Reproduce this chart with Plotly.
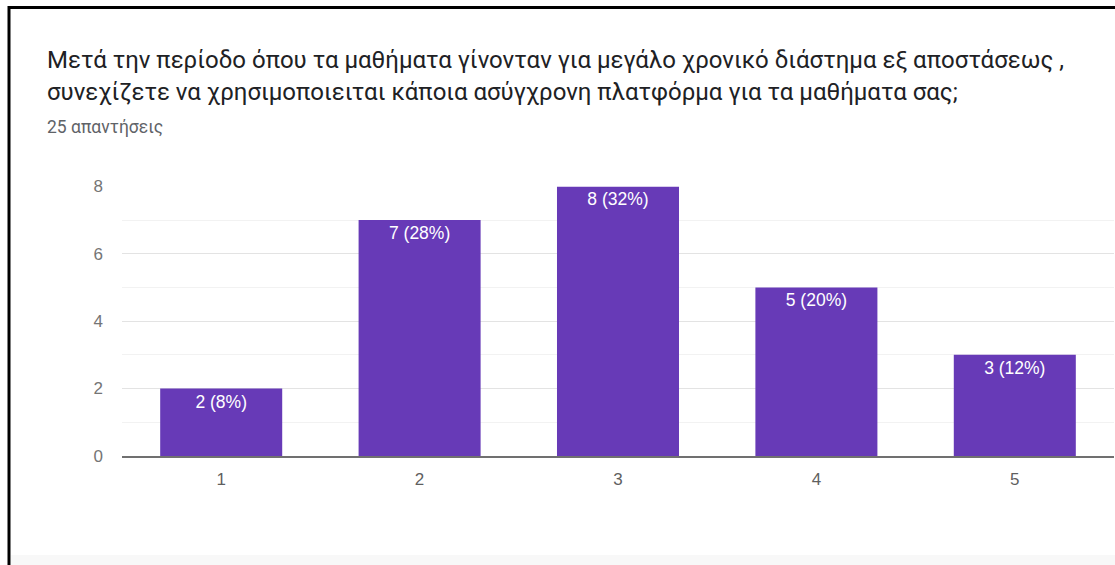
import plotly.graph_objects as go

# Survey results: answers on a 1-5 scale
categories = ["1", "2", "3", "4", "5"]
counts = [2, 7, 8, 5, 3]
respondents = 25
y_tick_values = [0, 2, 4, 6, 8]

title_line1 = "Μετά την περίοδο όπου τα μαθήματα γίνονταν για μεγάλο χρονικό διάστημα εξ αποστάσεως ,"
title_line2 = "συνεχίζετε να χρησιμοποιειται κάποια ασύγχρονη πλατφόρμα για τα μαθήματα σας;"
subtitle = f"{respondents} απαντήσεις"

labels = [f"{c} ({round(100 * c / respondents)}%)" for c in counts]

W, H = 1115, 565
TITLE_FONT = "Roboto, Arial, sans-serif"
CHART_FONT = "Arial, 'Liberation Sans', sans-serif"


def px_x(x):
    """Horizontal pixel -> paper fraction."""
    return x / W


def px_y(y):
    """Vertical pixel (from top) -> paper fraction (from bottom)."""
    return 1 - (y - 6) / 551


fig = go.Figure(
    go.Bar(
        x=categories,
        y=counts,
        text=labels,
        textposition="inside",
        insidetextanchor="end",
        textangle=0,
        insidetextfont=dict(family=CHART_FONT, size=17.5, color="#ffffff"),
        marker=dict(color="#673ab7", line=dict(width=0)),
        hoverinfo="skip",
    )
)

# plot region in pixels
left, right, top, bottom = 122, 1114, 185, 457

fig.update_layout(
    width=W,
    height=H,
    margin=dict(l=0, r=0, t=0, b=0),
    paper_bgcolor="#ffffff",
    plot_bgcolor="#ffffff",
    bargap=0.385,
    showlegend=False,
    uniformtext=dict(minsize=17, mode="show"),
    font=dict(family=CHART_FONT, color="#757575"),
    xaxis=dict(
        domain=[px_x(left), px_x(right)],
        showgrid=False,
        showline=True,
        linecolor="#707070",
        linewidth=2,
        ticks="",
        tickfont=dict(family=CHART_FONT, size=17, color="#5f5f5f"),
        ticklabelstandoff=7,
        fixedrange=True,
    ),
    yaxis=dict(
        domain=[px_y(bottom), px_y(top)],
        range=[0, 8],
        tickvals=y_tick_values,
        showgrid=True,
        gridcolor="#e3e3e3",
        gridwidth=1,
        minor=dict(dtick=1, showgrid=True, gridcolor="#f2f2f2", gridwidth=1),
        zeroline=False,
        showline=False,
        ticks="",
        ticklabelstandoff=18,
        tickfont=dict(family=CHART_FONT, size=17, color="#757575"),
        fixedrange=True,
    ),
    annotations=[
        dict(text=title_line1, x=px_x(45), y=px_y(57), xref="paper", yref="paper",
             xanchor="left", yanchor="middle", showarrow=False,
             font=dict(family=TITLE_FONT, size=24, color="#202124")),
        dict(text=title_line2, x=px_x(45), y=px_y(90), xref="paper", yref="paper",
             xanchor="left", yanchor="middle", showarrow=False,
             font=dict(family=TITLE_FONT, size=24, color="#202124")),
        dict(text=subtitle, x=px_x(45), y=px_y(125), xref="paper", yref="paper",
             xanchor="left", yanchor="middle", showarrow=False,
             font=dict(family=TITLE_FONT, size=17.5, color="#5f6368")),
    ],
    shapes=[
        # card border (left and top edges)
        dict(type="line", xref="paper", yref="paper", x0=px_x(9), x1=px_x(9),
             y0=-0.1, y1=px_y(3), line=dict(color="#000000", width=3)),
        dict(type="line", xref="paper", yref="paper", x0=px_x(8), x1=1.1,
             y0=px_y(4.5), y1=px_y(4.5), line=dict(color="#000000", width=3)),
        # faint footer band
        dict(type="rect", xref="paper", yref="paper", x0=px_x(11), x1=1.1,
             y0=-0.1, y1=px_y(557), fillcolor="#f8f8f8", line=dict(width=0),
             layer="below"),
    ],
)

fig.write_html("out.html")
